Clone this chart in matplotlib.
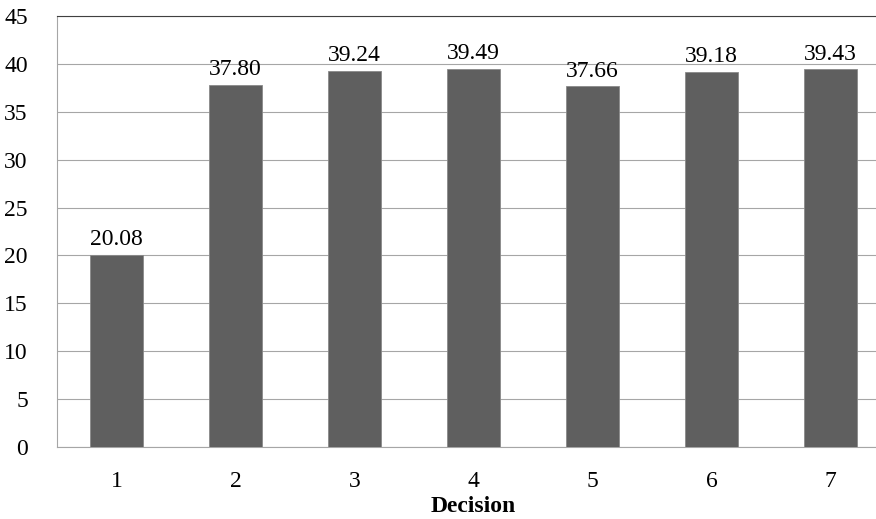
import matplotlib.pyplot as plt

# data
decisions = ["1", "2", "3", "4", "5", "6", "7"]
values = [20.08, 37.80, 39.24, 39.49, 37.66, 39.18, 39.43]
y_ticks = [0, 5, 10, 15, 20, 25, 30, 35, 40, 45]

plt.rcParams['font.family'] = ['Liberation Serif', 'DejaVu Serif']

fig = plt.figure(figsize=(8.76, 5.19), dpi=100)
# plot area runs slightly past the right edge of the picture, as in the reference
ax = fig.add_axes([57 / 876, 1 - 447 / 519, 833 / 876, 431 / 519])

x = range(len(decisions))
bars = ax.bar(x, values, width=0.45, color='#5f5f5f', edgecolor='#8a8a8a',
              linewidth=0.6, zorder=3)

for b, v in zip(bars, values):
    ax.text(b.get_x() + b.get_width() / 2, v + 0.5, f"{v:.2f}",
            ha='center', va='bottom', fontsize=17, zorder=4)

ax.set_xlim(-0.5, len(decisions) - 0.5)
ax.set_ylim(0, 45)
ax.set_yticks(y_ticks)
ax.set_xticks(list(x))
ax.set_xticklabels(decisions)
ax.tick_params(axis='both', length=0, labelsize=17)
ax.tick_params(axis='y', pad=21)
ax.tick_params(axis='x', pad=17)
ax.grid(axis='y', color='#a6a6a6', linewidth=0.8, zorder=0)

ax.spines['top'].set_color('#404040')
ax.spines['left'].set_color('#a6a6a6')
ax.spines['bottom'].set_color('#a6a6a6')
ax.spines['right'].set_visible(False)

ax.set_xlabel('Decision', fontsize=17, fontweight='bold', va='center')
ax.xaxis.set_label_coords((473 - 57) / 833, -(507 - 447) / 431)

fig.savefig('out.png', dpi=100)
